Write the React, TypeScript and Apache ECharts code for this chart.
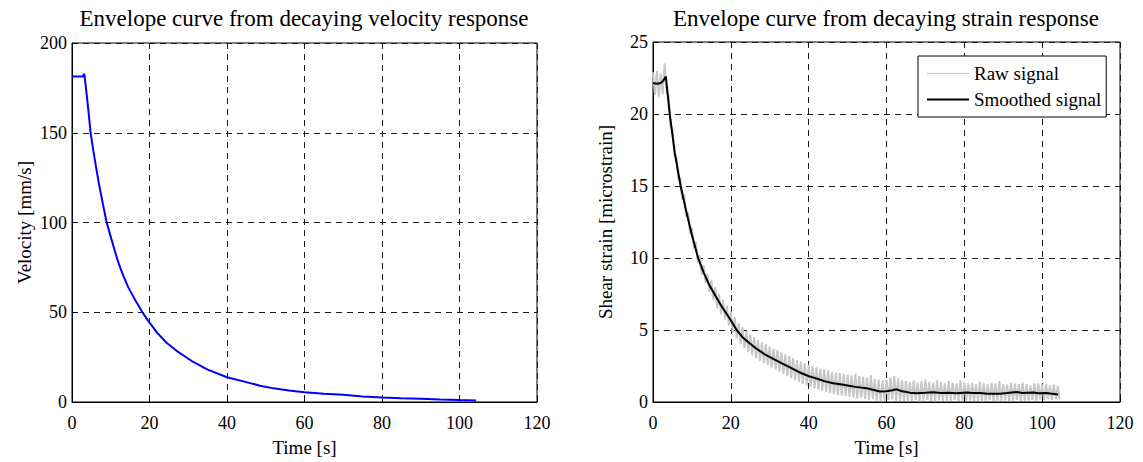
import React, { useEffect, useRef } from "react";
import * as echarts from "echarts";

const FONT = '"Liberation Serif", "Times New Roman", Times, serif';

// ---- Left panel: velocity envelope ----
const velTime = [0, 1, 2, 2.9, 3.0, 3.2, 3.6, 4.2, 4.8, 5.5, 6.2, 7, 8, 8.95, 10, 11, 12, 13.2, 14.5, 16, 18, 20, 22, 24.4, 27, 31.3, 35, 40, 46, 48.5, 52, 56, 60, 65, 70, 75, 80, 85, 90, 95, 100, 104.3];
const velValue = [181.4, 181.4, 181.4, 181.4, 182.8, 182.3, 175, 163, 150, 140, 131, 121, 110, 100, 92, 84.5, 77.5, 70.5, 64, 58, 50.5, 44.2, 38.5, 33, 28.5, 22.3, 18, 13.8, 10.5, 9.1, 7.6, 6.4, 5.4, 4.6, 4.0, 3.1, 2.5, 2.1, 1.8, 1.4, 1.1, 0.9];

// ---- Right panel: strain envelope ----
const strainTime = [0, 1, 2, 2.6, 3.3, 4.3, 5.6, 7.1, 8.5, 10, 11.6, 13, 14.5, 16, 17.5, 19.7, 21.5, 23, 24.5, 26.6, 28.5, 30.9, 33, 35.2, 37.7, 40, 42, 44, 46.3, 48.5, 50, 52, 54.9, 56.5, 58.3, 60, 61.5, 62.6, 64, 66, 67.7, 70, 72, 74, 76, 78, 80.6, 82, 84, 86, 89.2, 91, 93.4, 95, 97.7, 99, 101, 102.5, 104.1];
const strainSmooth = [22.15, 22.1, 22.15, 22.3, 22.6, 20, 17.3, 15, 13.3, 11.6, 10, 9.0, 8.1, 7.4, 6.7, 5.8, 5.0, 4.5, 4.15, 3.7, 3.35, 3.0, 2.7, 2.4, 2.05, 1.8, 1.63, 1.45, 1.3, 1.22, 1.15, 1.05, 0.95, 0.85, 0.73, 0.75, 0.82, 0.88, 0.75, 0.65, 0.61, 0.64, 0.68, 0.62, 0.64, 0.6, 0.66, 0.63, 0.62, 0.58, 0.57, 0.62, 0.7, 0.63, 0.66, 0.6, 0.62, 0.58, 0.52];

// Raw signal: peaks at whole seconds, troughs half a second later
const rawPeak = [
  22.9, 23.0, 22.8, 23.5, 21.3,
  19.0, 17.1, 15.6, 14.4, 13.2,
  12.1, 11.1, 10.2, 9.5, 8.9,
  8.5, 8.0, 7.5, 7.1, 6.7,
  6.3, 5.9, 5.5, 5.2, 4.9,
  4.7, 4.5, 4.3, 4.15, 4.0,
  3.85, 3.7, 3.6, 3.45, 3.3,
  3.2, 3.05, 2.9, 2.8, 2.7,
  2.6, 2.5, 2.4, 2.3, 2.25,
  2.2, 2.1, 2.05, 2.0, 1.95,
  1.9, 1.85, 1.95, 1.8, 1.75,
  1.7, 1.85, 1.6, 1.55, 1.5,
  1.55, 1.7, 1.8, 1.65, 1.5,
  1.45, 1.4, 1.5, 1.35, 1.45,
  1.55, 1.4, 1.35, 1.5, 1.4,
  1.3, 1.45, 1.35, 1.3, 1.5,
  1.35, 1.3, 1.35, 1.25, 1.4,
  1.3, 1.25, 1.35, 1.3, 1.45,
  1.25, 1.2, 1.35, 1.3, 1.25,
  1.35, 1.25, 1.15, 1.3, 1.3,
  1.2, 1.25, 1.15, 1.2, 1.1,
];
const rawTrough = [
  21.3, 21.2, 21.4, 21.5, 19.15,
  17.05, 15.45, 14.05, 12.85, 11.65,
  10.65, 9.65, 8.85, 8.25, 7.65,
  7.1, 6.5, 6.1, 5.7, 5.3,
  4.85, 4.4, 4.05, 3.75, 3.5,
  3.25, 3.05, 2.85, 2.7, 2.55,
  2.4, 2.25, 2.1, 1.95, 1.8,
  1.65, 1.5, 1.4, 1.25, 1.15,
  1.05, 0.95, 0.85, 0.78, 0.7,
  0.62, 0.55, 0.5, 0.45, 0.4,
  0.35, 0.3, 0.25, 0.3, 0.2,
  0.15, 0.2, 0.1, 0.05, 0.1,
  0.15, 0.2, 0.1, 0.05, 0.1,
  0.05, 0.1, 0.15, 0.05, 0.1,
  0.15, 0.08, 0.05, 0.12, 0.1,
  0.05, 0.1, 0.15, 0.08, 0.05,
  0.1, 0.12, 0.06, 0.1, 0.05,
  0.1, 0.15, 0.08, 0.05, 0.1,
  0.12, 0.06, 0.1, 0.15, 0.08,
  0.1, 0.12, 0.15, 0.1, 0.18,
  0.15, 0.2, 0.15, 0.22, 0.2,
];

const xTickInterval = 20;
const titles = [
  "Envelope curve from decaying velocity response",
  "Envelope curve from decaying strain response",
];
const legendNames = ["Raw signal", "Smoothed signal"];

function buildOption() {
  const velData = velTime.map((t, i) => [t, velValue[i]]);
  const smoothData = strainTime.map((t, i) => [t, strainSmooth[i]]);
  const rawData: number[][] = [];
  rawPeak.forEach((v, i) => {
    rawData.push([i, v]);
    rawData.push([i + 0.5, rawTrough[i]]);
  });

  const labelStyle = { fontFamily: FONT, fontSize: 18, color: "#000" };
  const nameStyle = { fontFamily: FONT, fontSize: 19, color: "#000" };
  const split = { show: true, lineStyle: { color: "#1a1a1a", type: [6, 5], width: 1 } };
  const axisLine = { show: true, lineStyle: { color: "#000", width: 1 } };
  const tick = { show: true, inside: true, length: 5, lineStyle: { color: "#000" } };

  const xAxis = (gridIndex: number) => ({
    type: "value",
    gridIndex,
    min: 0,
    max: 120,
    interval: xTickInterval,
    name: "Time [s]",
    nameLocation: "middle",
    nameGap: 36,
    nameTextStyle: nameStyle,
    axisLine,
    axisTick: tick,
    splitLine: split,
    axisLabel: { ...labelStyle, margin: 12 },
  });

  const yAxis = (gridIndex: number, max: number, interval: number, name: string) => ({
    type: "value",
    gridIndex,
    min: 0,
    max,
    interval,
    name,
    nameLocation: "middle",
    nameGap: 38,
    nameTextStyle: nameStyle,
    axisLine,
    axisTick: tick,
    splitLine: split,
    axisLabel: { ...labelStyle, margin: 5 },
  });

  const titleStyle = { fontFamily: FONT, fontSize: 23, fontWeight: "normal", color: "#000" };

  return {
    animation: false,
    backgroundColor: "#fff",
    title: [
      { text: titles[0], left: 304, top: 7, textAlign: "center", padding: 0, textStyle: titleStyle },
      { text: titles[1], left: 886, top: 7, textAlign: "center", padding: 0, textStyle: titleStyle },
    ],
    grid: [
      { left: 72, top: 43, width: 465, height: 366, show: true, borderColor: "#000", borderWidth: 1, backgroundColor: "transparent" },
      { left: 653, top: 42, width: 467, height: 367, show: true, borderColor: "#000", borderWidth: 1, backgroundColor: "transparent" },
    ],
    xAxis: [xAxis(0), xAxis(1)],
    yAxis: [
      yAxis(0, 200, 50, "Velocity [mm/s]"),
      yAxis(1, 25, 5, "Shear strain [microstrain]"),
    ],
    legend: {
      data: [
        { name: legendNames[0], lineStyle: { width: 1 } },
        { name: legendNames[1], lineStyle: { width: 2 } },
      ],
      orient: "vertical",
      left: 918,
      top: 56,
      itemWidth: 42,
      itemHeight: 14,
      itemGap: 7,
      padding: [8, 5, 8, 8],
      borderColor: "#000",
      borderWidth: 1,
      backgroundColor: "#fff",
      itemStyle: { color: "transparent", borderWidth: 0, opacity: 0 },
      textStyle: { fontFamily: FONT, fontSize: 19, color: "#000" },
    },
    series: [
      {
        name: "Velocity",
        type: "line",
        xAxisIndex: 0,
        yAxisIndex: 0,
        data: velData,
        symbol: "none",
        lineStyle: { color: "#0000ff", width: 2 },
        itemStyle: { color: "#0000ff" },
      },
      {
        name: legendNames[0],
        type: "line",
        xAxisIndex: 1,
        yAxisIndex: 1,
        data: rawData,
        symbol: "none",
        lineStyle: { color: "#c8c8c8", width: 2 },
        itemStyle: { color: "#c8c8c8" },
      },
      {
        name: legendNames[1],
        type: "line",
        xAxisIndex: 1,
        yAxisIndex: 1,
        data: smoothData,
        symbol: "none",
        lineStyle: { color: "#000", width: 2 },
        itemStyle: { color: "#000" },
      },
    ],
  };
}

export default function App() {
  const ref = useRef<HTMLDivElement>(null);
  useEffect(() => {
    if (!ref.current) return;
    const chart = echarts.init(ref.current, undefined, { renderer: "svg" });
    chart.setOption(buildOption() as any);
    return () => chart.dispose();
  }, []);
  return (
    <div
      ref={ref}
      style={{ position: "fixed", left: 0, top: 0, width: 1143, height: 462, background: "#fff" }}
    />
  );
}
